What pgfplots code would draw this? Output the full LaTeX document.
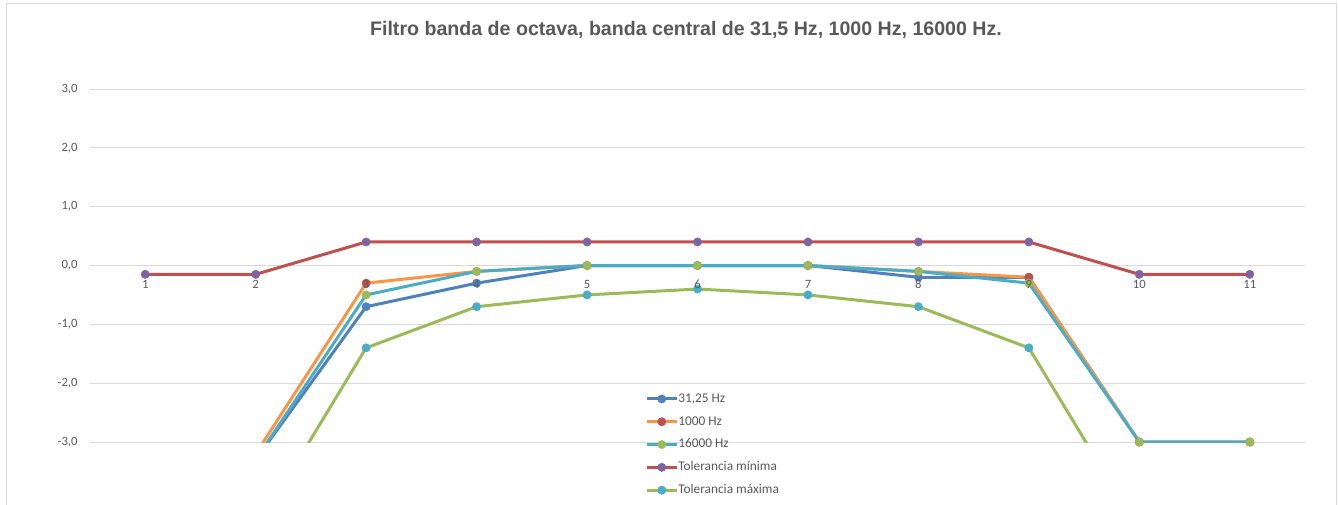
\documentclass[border=0pt]{standalone}
\usepackage{pgfplots}
\pgfplotsset{compat=1.18}
\usepackage{fontspec}
\setmainfont{Carlito}
\newfontfamily\titlefont{Liberation Sans}
\definecolor{xlblue}{HTML}{4F81BD}
\definecolor{xlred}{HTML}{C0504D}
\definecolor{xlgreen}{HTML}{9BBB59}
\definecolor{xlpurple}{HTML}{8064A2}
\definecolor{xlaqua}{HTML}{4BACC6}
\definecolor{xlorange}{HTML}{F79646}
\definecolor{gridc}{HTML}{D9D9D9}
\definecolor{txt}{HTML}{595959}
\pgfplotsset{
  base/.style={
    at={(67.5pt,46.5pt)}, anchor=south west,
    scale only axis, width=911.25pt, height=264.75pt,
    xmin=0.5, xmax=11.5, ymin=-3, ymax=3,
    major tick length=0pt,
    tick style={draw=none},
    ticklabel style={font=\fontsize{9.5}{11}\selectfont, text=txt},
  }
}
\begin{document}
\begin{tikzpicture}
\path[use as bounding box] (0pt,0pt) rectangle (1003.5pt,378pt);
\draw[color=gridc, line width=0.75pt] (4.5pt,-4pt) -- (4.5pt,375pt) -- (1002pt,375pt) -- (1002pt,-4pt);
\node[font=\titlefont\bfseries\fontsize{14.7}{16}\selectfont, text=txt, anchor=base] at (514.5pt,351pt) {Filtro banda de octava, banda central de 31,5 Hz, 1000 Hz, 16000 Hz.};
\begin{axis}[
  base,
  xtick=\empty,
  ytick={-3,-2,-1,0,1,2,3},
  yticklabels={{-3,0},{-2,0},{-1,0},{0,0},{1,0},{2,0},{3,0}},
  axis x line*=middle,
  axis y line*=left,
  x axis line style={draw=gridc, line width=0.75pt, -},
  y axis line style={draw=none},
  every inner x axis line/.append style={-},
  ymajorgrids,
  grid style={draw=gridc, line width=0.75pt},
  yticklabel style={xshift=-5.8pt},
  clip=true,
  legend cell align=left,
  legend style={at={(0.4568,0.1397)}, anchor=north west, draw=none, fill=none,
    inner sep=0pt, font=\fontsize{10}{12}\selectfont, text=txt,
    nodes={inner sep=0pt, text height=7pt, text depth=2pt},
    row sep=8.1pt,
    /tikz/every even column/.append style={column sep=1.2pt}},
  legend image code/.code={\draw[mark repeat=2,mark phase=2,#1] plot coordinates {(0pt,0pt) (11.25pt,0pt) (22.5pt,0pt)};},
]
\addplot[color=xlblue, line width=2.25pt, mark=*, mark size=3.1pt, mark options={line width=0.4pt, draw=xlblue, fill=xlblue}]
 coordinates {(1,-4.5) (2,-3.3) (3,-0.7) (4,-0.3) (5,0.0) (6,0.0) (7,0.0) (8,-0.2) (9,-0.2) (10,-3.0) (11,-3.0)};
\addlegendentry{31,25 Hz}
\addplot[color=xlorange, line width=2.25pt, mark=*, mark size=3.1pt, mark options={line width=0.4pt, draw=xlred, fill=xlred}]
 coordinates {(1,-4.5) (2,-3.2) (3,-0.3) (4,-0.1) (5,0.0) (6,0.0) (7,0.0) (8,-0.1) (9,-0.2) (10,-3.0) (11,-3.0)};
\addlegendentry{1000 Hz}
\addplot[color=xlaqua, line width=2.25pt, mark=*, mark size=3.1pt, mark options={line width=0.4pt, draw=xlgreen, fill=xlgreen}]
 coordinates {(1,-4.5) (2,-3.3) (3,-0.5) (4,-0.1) (5,0.0) (6,0.0) (7,0.0) (8,-0.1) (9,-0.3) (10,-3.0) (11,-3.0)};
\addlegendentry{16000 Hz}
\addplot[color=xlred, line width=2.25pt, mark=*, mark size=3.1pt, mark options={line width=0.4pt, draw=xlpurple, fill=xlpurple}]
 coordinates {(1,-0.15) (2,-0.15) (3,0.4) (4,0.4) (5,0.4) (6,0.4) (7,0.4) (8,0.4) (9,0.4) (10,-0.15) (11,-0.15)};
\addlegendentry{Tolerancia mínima}
\addplot[color=xlgreen, line width=2.25pt, mark=*, mark size=3.1pt, mark options={line width=0.4pt, draw=xlaqua, fill=xlaqua}]
 coordinates {(1,-6.0) (2,-4.5) (3,-1.4) (4,-0.7) (5,-0.5) (6,-0.4) (7,-0.5) (8,-0.7) (9,-1.4) (10,-4.5) (11,-6.0)};
\addlegendentry{Tolerancia máxima}
\end{axis}
\begin{axis}[
  base,
  xtick={1,2,3,4,5,6,7,8,9,10,11},
  xticklabels={1,2,3,4,5,6,7,8,9,10,11},
  ytick=\empty,
  axis x line*=middle,
  axis y line=none,
  x axis line style={draw=none, -},
  every inner x axis line/.append style={-},
  xticklabel style={yshift=-7.4pt},
]
\end{axis}
\end{tikzpicture}
\end{document}
